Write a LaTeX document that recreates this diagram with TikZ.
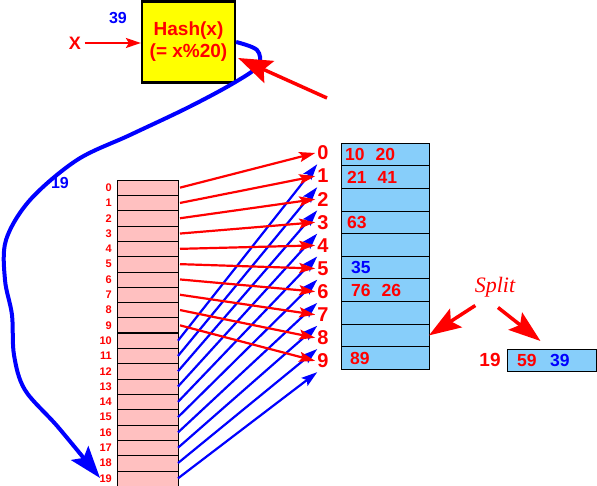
\documentclass[tikz,border=0pt]{standalone}
\usepackage{fontspec}
\setmainfont{Liberation Sans}
\newfontfamily\splitfont{Liberation Serif}
\usetikzlibrary{arrows.meta,calc}
\definecolor{hashred}{HTML}{FF0000}
\definecolor{hashblue}{HTML}{0000FF}
\definecolor{rowpink}{HTML}{FFC0C0}
\definecolor{bucketblue}{HTML}{87CEFA}
\definecolor{boxyellow}{HTML}{FFFF00}

\begin{document}
\begin{tikzpicture}[x=1pt,y=-1pt,>=Stealth,
  lrow/.style={draw,fill=rowpink,minimum width=61pt,minimum height=15.3pt,inner sep=0pt,outer sep=0pt},
  brow/.style={draw,line width=1pt,fill=bucketblue,minimum width=88pt,minimum height=22.6pt,inner sep=0pt,outer sep=0pt},
  slbl/.style={text=hashred,font=\fontsize{11}{11}\selectfont\bfseries,inner sep=0pt,anchor=east},
  blbl/.style={text=hashred,font=\fontsize{20}{20}\selectfont\bfseries,inner sep=2pt},
  cnt/.style={font=\fontsize{17.5}{17.5}\selectfont\bfseries,inner sep=0pt,anchor=west},
  maparrow/.style={line width=2.2pt,-{Stealth[length=16pt,width=10pt,inset=3pt]}},
  bigarrow/.style={line width=3.5pt,-{Stealth[length=32pt,width=22pt,inset=6pt]}}]
  \useasboundingbox (0,0) rectangle (597,486);

  % hash function box
  \node[draw,line width=2.2pt,fill=boxyellow,minimum width=93pt,minimum height=81pt,
    align=center,text=hashred,font=\fontsize{19}{22}\selectfont\bfseries] (hash) at (188.5,42) {Hash(x)\\(= x\%20)};
  \node[text=hashred,font=\fontsize{18}{18}\selectfont\bfseries] (x) at (75,43) {X};
  \draw[hashred,line width=2pt,-{Stealth[length=15pt,width=10pt,inset=3pt]}] (x.east) -- (hash.west |- x.east);
  \node[text=hashblue,font=\fontsize{16}{16}\selectfont\bfseries] (key) at (118,18) {39};

  % directory, 20 entries
  \foreach \i in {0,...,19} {
    \node[lrow] (l\i) at (147.5,{187.65+15.3*\i}) {};
    \node[slbl] at ($(l\i.west)+(-5,0)$) {\i};
  }
  \draw[line width=1.6pt] (l9.south west) -- (l9.south east);

  % buckets 0..9
  \foreach \i in {0,...,9} {
    \node[brow] (r\i) at (385,{154.6+22.6*\i}) {};
    \node[blbl] (b\i) at (323,{153+23.1*\i}) {\i};
  }
  \node[cnt,text=hashred] at ($(r0.west)+(4,0)$) {10\hspace{11pt}20};
  \node[cnt,text=hashred] at ($(r1.west)+(6,0)$) {21\hspace{11pt}41};
  \node[cnt,text=hashred] at ($(r3.west)+(6,0)$) {63};
  \node[cnt,text=hashblue] at ($(r5.west)+(10,0)$) {35};
  \node[cnt,text=hashred] at ($(r6.west)+(10,0)$) {76\hspace{11pt}26};
  \node[cnt,text=hashred] at ($(r9.west)+(9,0)$) {89};

  % directory -> buckets
  \foreach \i [evaluate=\i as \j using int(\i+10)] in {0,...,9} {
    \draw[maparrow,hashred] ($(l\i.east)+(2,0)$) -- (b\i.west);
    \draw[maparrow,hashblue] (l\j.east) -- ($(b\i.south west)+(2,2)$);
  }

  % x = 39 goes to entry 19
  \node[text=hashblue,font=\fontsize{16}{16}\selectfont\bfseries] (slot) at (60,183) {19};
  \draw[bigarrow,hashblue,line width=4pt] plot[smooth,tension=0.55] coordinates {(hash.east) (257,50) (258,66) (232,84) (187,108) (130,135) (77,160) (30,200) (6,240) (5,280) (12,315) (14,355) (25,390) (58,427) (100,478)};
  \coordinate (probe) at (327,98);
  \draw[bigarrow,hashred,-{Stealth[length=34pt,width=24pt,inset=6pt]}] (probe) -- ($(hash.east)+(2,16)$);

  % split of bucket 9
  \node[text=hashred,font=\fontsize{22}{22}\selectfont\splitfont\itshape] (split) at (495,287) {Split};
  \node[brow,minimum width=89pt,minimum height=22pt] (nb) at (551.5,360) {};
  \node[text=hashred,font=\fontsize{19}{19}\selectfont\bfseries] (nbl) at (490,360) {19};
  \node[cnt,text=hashred] at ($(nb.west)+(10,0)$) {59};
  \node[cnt,text=hashblue] at ($(nb.west)+(43,0)$) {39};
  \draw[bigarrow,hashred] ($(split.south west)+(4,5)$) -- (r8.east);
  \draw[bigarrow,hashred] ($(split.south)+(3,7)$) -- ($(nb.north)+(-11,-8)$);
\end{tikzpicture}
\end{document}
